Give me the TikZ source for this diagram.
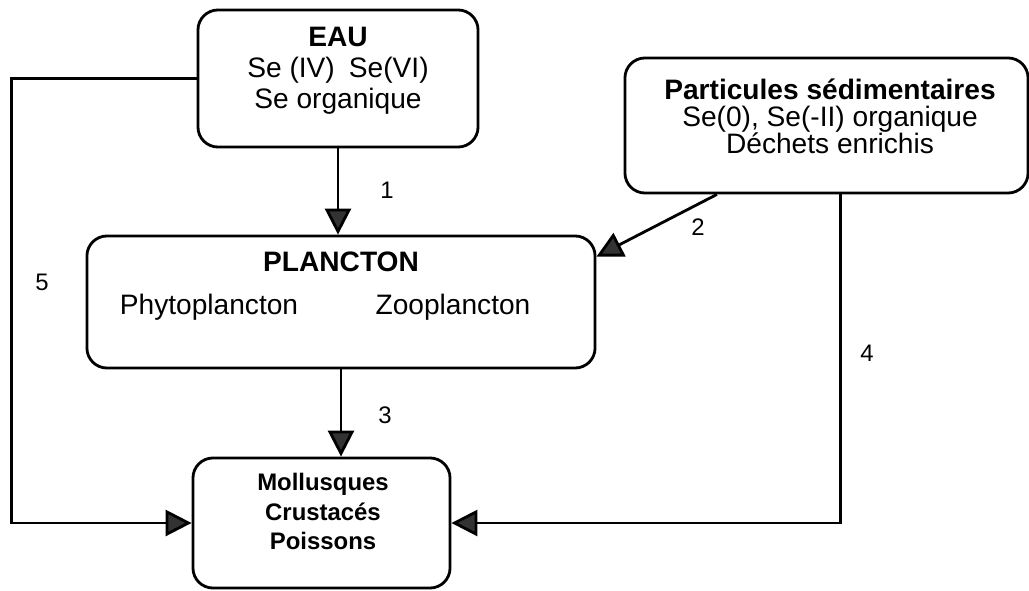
\documentclass[tikz,border=0pt]{standalone}
\usepackage{fontspec}
\setmainfont{Liberation Sans}
\usetikzlibrary{arrows.meta,positioning,calc}

\begin{document}
\begin{tikzpicture}[
		x=0.025cm, y=-0.025cm,
		box/.style={
			draw,
			rounded corners=0.5cm,
			line width=2pt,
		},
		txt/.style={
			align=center,
			inner sep=0pt,
			font=\fontsize{20}{22}\selectfont
		},
		num/.style={
			font=\fontsize{17}{19}\selectfont
		},
		link/.style={
			line width=2pt,
			->
		},
		>={Triangle[length=0.65cm,width=0.65cm,fill=black!80]}
		]
		\useasboundingbox (0,0) rectangle (1029,590);
		
		% boxes
		\node[box, minimum width=7cm, minimum height=3.425cm] (eau) at (338,78.5) {};
		\node[box, minimum width=10.075cm, minimum height=3.375cm] (part) at (826.5,125.5) {};
		\node[box, minimum width=12.7cm, minimum height=3.3cm] (plancton) at (341,302) {};
		\node[box, minimum width=6.425cm, minimum height=3.25cm] (moll) at (321.5,523) {};
		
		% texts
		\node[txt, anchor=north] (eautxt) at (338,27) {\textbf{EAU}\\Se (IV)\enspace Se(VI)\\Se organique};
		\node[txt, anchor=north, font=\fontsize{20}{19}\selectfont] (parttxt) at (830,79) {\textbf{Particules sédimentaires}\\Se(0), Se(-II) organique\\Déchets enrichis};
		\node[txt] (plantxt) at (341,262) {\textbf{PLANCTON}};
		\node[txt] (phyto) at (209,307) {Phytoplancton};
		\node[txt] (zoo) at (453,307) {Zooplancton};
		\node[txt, anchor=north, font=\fontsize{17}{21}\selectfont] (molltxt) at (323,473) {\textbf{Mollusques}\\\textbf{Crustacés}\\\textbf{Poissons}};
		
		% transfers
		\draw[link] (eau.south) -- (eau.south |- plancton.north);
		\draw[link] ($(part.south west)!0.23!(part.south east)$) -- ([yshift=-0.55cm]plancton.north east);
		\draw[link] (plancton.south) -- (plancton.south |- moll.north);
		\draw[link] ([xshift=0.34cm]part.south) |- (moll.east);
		\draw[link] (eau.west) -- ++(-4.625cm,0) |- (moll.west);
		
		\node[num] (n1) at (387,190) {1};
		\node[num] (n2) at (698,227) {2};
		\node[num] (n3) at (385,415) {3};
		\node[num] (n4) at (867,353) {4};
		\node[num] (n5) at (42,282) {5};
		
\end{tikzpicture}
\end{document}
